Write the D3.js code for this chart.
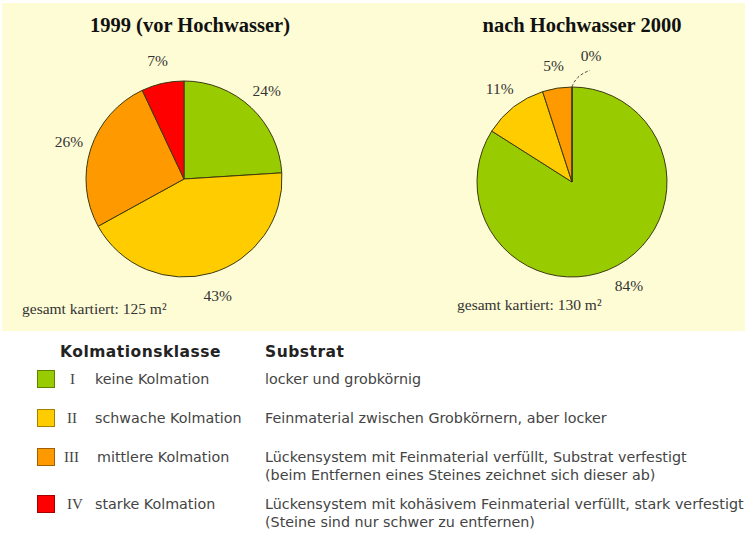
<!DOCTYPE html>
<html><head><meta charset="utf-8">
<script src="https://cdn.jsdelivr.net/npm/d3@7"></script>
<style>body{margin:0;background:#fff;}svg{display:block;}</style>
</head><body>
<svg id="c" width="745" height="533"></svg>
<script>
const classes = ["I","II","III","IV"];
const classNames = ["keine Kolmation","schwache Kolmation","mittlere Kolmation","starke Kolmation"];
const colors = ["#99cc00","#ffcc00","#ff9900","#ff0000"];
const values1999 = [24,43,26,7];
const values2000 = [84,11,5,0];
const titles = ["1999 (vor Hochwasser)","nach Hochwasser 2000"];
const totals = ["gesamt kartiert: 125 m²","gesamt kartiert: 130 m²"];
const substrat = [
  ["locker und grobkörnig"],
  ["Feinmaterial zwischen Grobkörnern, aber locker"],
  ["Lückensystem mit Feinmaterial verfüllt, Substrat verfestigt","(beim Entfernen eines Steines zeichnet sich dieser ab)"],
  ["Lückensystem mit kohäsivem Feinmaterial verfüllt, stark verfestigt","(Steine sind nur schwer zu entfernen)"]
];

const svg = d3.select("#c");
svg.append("rect").attr("x",2).attr("y",3).attr("width",743).attr("height",328).attr("fill","#fefcd5");

const serif = "'Liberation Serif','Times New Roman',serif";
const sans = "'DejaVu Sans',Verdana,sans-serif";

const pies = [
  {vals: values1999, cx: 184, cy: 179, r: 98, tx: 190, totX: 22, totY: 314},
  {vals: values2000, cx: 572, cy: 182, r: 95, tx: 582, totX: 457, totY: 310}
];

const pieGen = d3.pie().sort(null).value(d=>d);
pies.forEach((p,i)=>{
  svg.append("text").attr("x",p.tx).attr("y",32).attr("text-anchor","middle")
    .attr("font-family",serif).attr("font-weight","bold").attr("font-size",20.5).attr("fill","#111")
    .text(titles[i]);
  const g = svg.append("g").attr("transform",`translate(${p.cx},${p.cy})`);
  const arcs = pieGen(p.vals);
  const arc = d3.arc().innerRadius(0).outerRadius(p.r);
  g.selectAll("path.s").data(arcs).join("path").attr("class","s")
    .attr("d",arc).attr("fill",(d,j)=>colors[j])
    .attr("stroke","#3a3a10").attr("stroke-width",1);
  const lr = p.r + 23;
  const lab = d3.arc().innerRadius(lr).outerRadius(lr);
  arcs.forEach((d,j)=>{
    let x, y;
    if (d.value === 0) {
      const a = d.startAngle;
      const sx = Math.sin(a)*p.r, sy = -Math.cos(a)*p.r;
      const a2 = a + 0.16;
      const ex = Math.sin(a2)*(p.r+18), ey = -Math.cos(a2)*(p.r+18);
      g.append("path").attr("d",`M${sx},${sy} Q${sx+4},${sy-12} ${ex},${ey}`)
        .attr("fill","none").attr("stroke","#444").attr("stroke-width",1).attr("stroke-dasharray","3,2");
      const a3 = a + 0.15;
      x = Math.sin(a3)*(p.r+33); y = -Math.cos(a3)*(p.r+33);
    } else {
      [x,y] = lab.centroid(d);
    }
    g.append("text").attr("x",x).attr("y",y).attr("text-anchor","middle").attr("dominant-baseline","central")
      .attr("font-family",serif).attr("font-size",15.5).attr("fill","#333").text(d.value+"%");
  });
  svg.append("text").attr("x",p.totX).attr("y",p.totY).attr("font-family",serif).attr("font-size",15.5)
    .attr("fill","#333").text(totals[i]);
});

// legend
svg.append("text").attr("x",60).attr("y",357).attr("font-family",sans).attr("font-weight","bold")
  .attr("font-size",15.5).attr("letter-spacing",0.5).attr("fill","#222").text("Kolmationsklasse");
svg.append("text").attr("x",265).attr("y",357).attr("font-family",sans).attr("font-weight","bold")
  .attr("font-size",15.5).attr("letter-spacing",0.5).attr("fill","#222").text("Substrat");

const lineH = 18;
let rowY = [];
let yy = 379;
substrat.forEach((lines,j)=>{ rowY.push(yy); yy += 39 + 8*(lines.length-1); });

classes.forEach((c,j)=>{
  const y = rowY[j];
  svg.append("rect").attr("x",37.5).attr("y",y-8.5).attr("width",17).attr("height",17)
    .attr("fill",colors[j]).attr("stroke",d3.color(colors[j]).darker(1.3)).attr("stroke-width",1);
  svg.append("text").attr("x",c.length===1?70:(c.length===2?67:64)).attr("y",y+5).attr("font-family",serif)
    .attr("font-size",15).attr("fill","#444").text(c);
  svg.append("text").attr("x",c.length>2?97:95).attr("y",y+5).attr("font-family",sans)
    .attr("font-size",14.3).attr("fill","#444").text(classNames[j]);
  substrat[j].forEach((line,k)=>{
    svg.append("text").attr("x",265).attr("y",y+5 + k*lineH).attr("font-family",sans)
      .attr("font-size",14.3).attr("fill","#444").text(line);
  });
});
</script>
</body></html>
